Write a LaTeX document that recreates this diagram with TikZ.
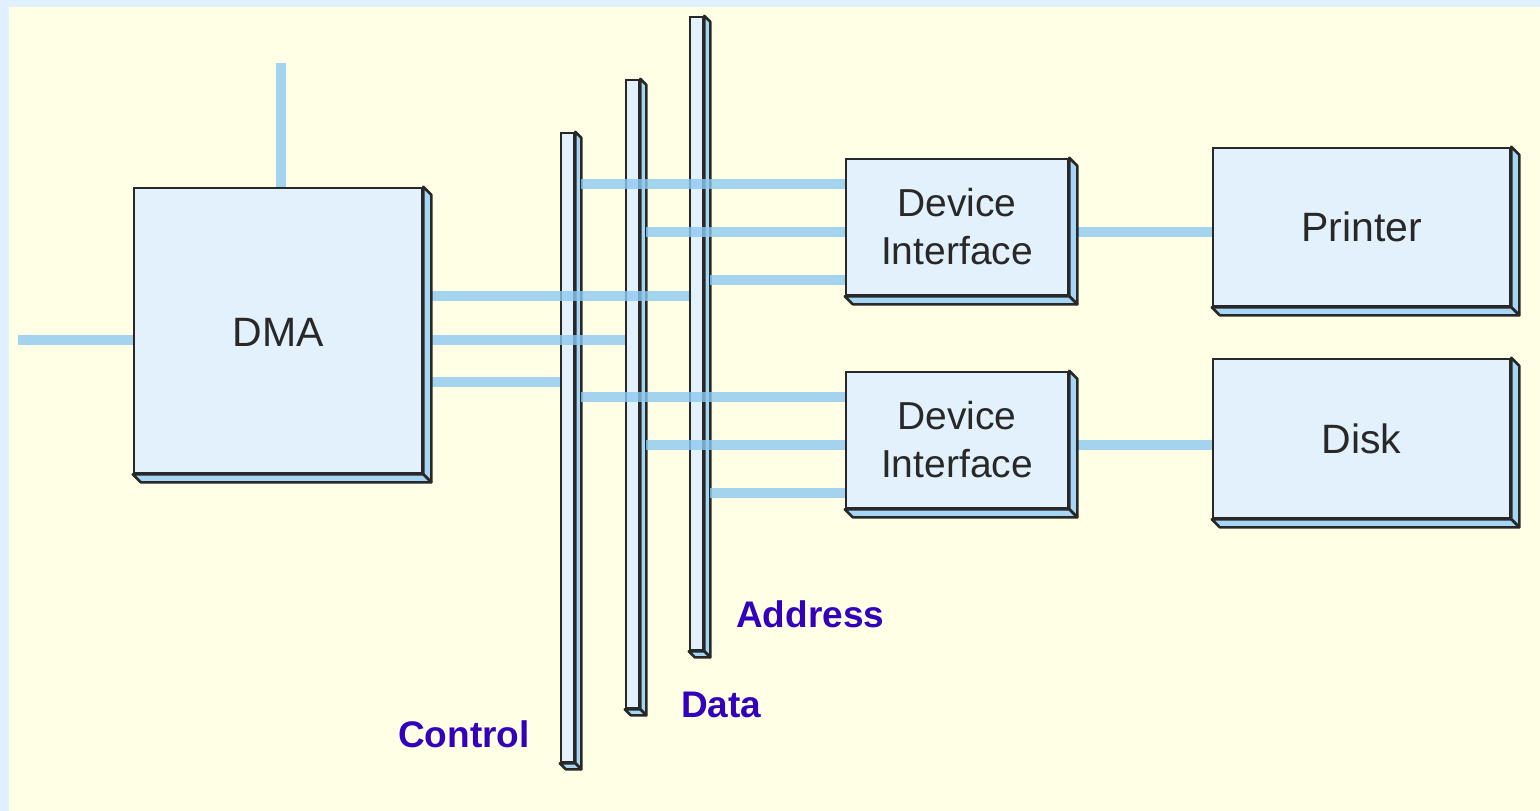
\documentclass[tikz,border=0pt]{standalone}
\usepackage{fontspec}
\setmainfont{Liberation Sans}
\usetikzlibrary{calc}

\definecolor{frame}{RGB}{224,240,255}
\definecolor{paper}{RGB}{255,255,229}
\definecolor{face}{RGB}{227,241,252}
\definecolor{flank}{RGB}{166,214,245}
\definecolor{wirec}{RGB}{140,200,240}
\definecolor{inkc}{RGB}{40,40,40}
\definecolor{tagc}{RGB}{51,0,187}

% right and bottom faces of a block
\newcommand{\slabside}[2]{%
  \filldraw[flk] (#1.north east) -- ++(#2,#2) -- ([shift={(#2,#2)}]#1.south east) -- (#1.south east) -- cycle;
  \filldraw[flk] (#1.south west) -- ++(#2,#2) -- ([shift={(#2,#2)}]#1.south east) -- (#1.south east) -- cycle;}

\begin{document}
\begin{tikzpicture}[x=1pt,y=-1pt,
    slab/.style={rectangle,draw=inkc,line width=2.5pt,fill=face,inner sep=0pt,text=inkc,
                 font=\fontsize{41}{48}\selectfont,align=center},
    di/.style={slab,font=\fontsize{39}{48}\selectfont},
    bar/.style={rectangle,draw=inkc,line width=2.5pt,fill=face,inner sep=0pt,minimum width=13pt},
    flk/.style={draw=inkc,line width=2.5pt,fill=flank,line join=round},
    wire/.style={draw=wirec,line width=10pt,opacity=.8},
    tag/.style={text=tagc,font=\bfseries\fontsize{37}{42}\selectfont,inner sep=0pt,anchor=base west}]
    \useasboundingbox (0,0) rectangle (1540,811);
    \fill[frame] (0,0) rectangle (1540,811);
    \fill[paper] (9,7) rectangle (1540,811);

    % the three buses
    \node[bar,minimum height=629pt] (ctl)  at (567.5,447.5) {};
    \node[bar,minimum height=628pt] (dat)  at (632.5,394)   {};
    \node[bar,minimum height=633pt] (adr)  at (696.5,333.5) {};
    \slabside{ctl}{6}
    \slabside{dat}{6}
    \slabside{adr}{6}

    \node[tag] (ctltag) at (398,747) {Control};
    \node[tag] (dattag) at (681,717) {Data};
    \node[tag] (adrtag) at (736,627) {Address};

    % blocks
    \node[slab,minimum width=288pt,minimum height=285pt,text depth=0pt] (dma) at (278,330.5) {\raisebox{-4pt}{DMA}};
    \node[di,minimum width=222pt,minimum height=136pt] (if1) at (957,227) {Device\\Interface};
    \node[di,minimum width=222pt,minimum height=136pt] (if2) at (957,440) {Device\\Interface};
    \node[slab,minimum width=297pt,minimum height=158pt] (prn) at (1361.5,227) {Printer};
    \node[slab,minimum width=297pt,minimum height=159pt] (dsk) at (1361.5,438.5) {Disk};

    % wires
    \coordinate (up) at (281,63);
    \coordinate (in) at (18,340);
    \draw[wire] (up) -- (up |- dma.north);
    \draw[wire] (in) -- (in -| dma.west);

    \draw[wire] ([xshift=8pt]dma.east |- 0,296) -- (adr.west |- 0,296);
    \draw[wire] ([xshift=8pt]dma.east |- 0,340) -- (dat.west |- 0,340);
    \draw[wire] ([xshift=8pt]dma.east |- 0,382) -- (ctl.west |- 0,382);

    \draw[wire] ([xshift=6pt]ctl.east |- 0,184) -- (if1.west |- 0,184);
    \draw[wire] ([xshift=6pt]dat.east |- 0,232) -- (if1.west |- 0,232);
    \draw[wire] ([xshift=6pt]adr.east |- 0,280) -- (if1.west |- 0,280);

    \draw[wire] ([xshift=6pt]ctl.east |- 0,397) -- (if2.west |- 0,397);
    \draw[wire] ([xshift=6pt]dat.east |- 0,445) -- (if2.west |- 0,445);
    \draw[wire] ([xshift=6pt]adr.east |- 0,493) -- (if2.west |- 0,493);

    \draw[wire] ([xshift=8pt]if1.east |- 0,232) -- (prn.west |- 0,232);
    \draw[wire] ([xshift=8pt]if2.east |- 0,445) -- (dsk.west |- 0,445);

    \slabside{dma}{8}
    \slabside{if1}{8}
    \slabside{if2}{8}
    \slabside{prn}{8}
    \slabside{dsk}{8}
\end{tikzpicture}
\end{document}
